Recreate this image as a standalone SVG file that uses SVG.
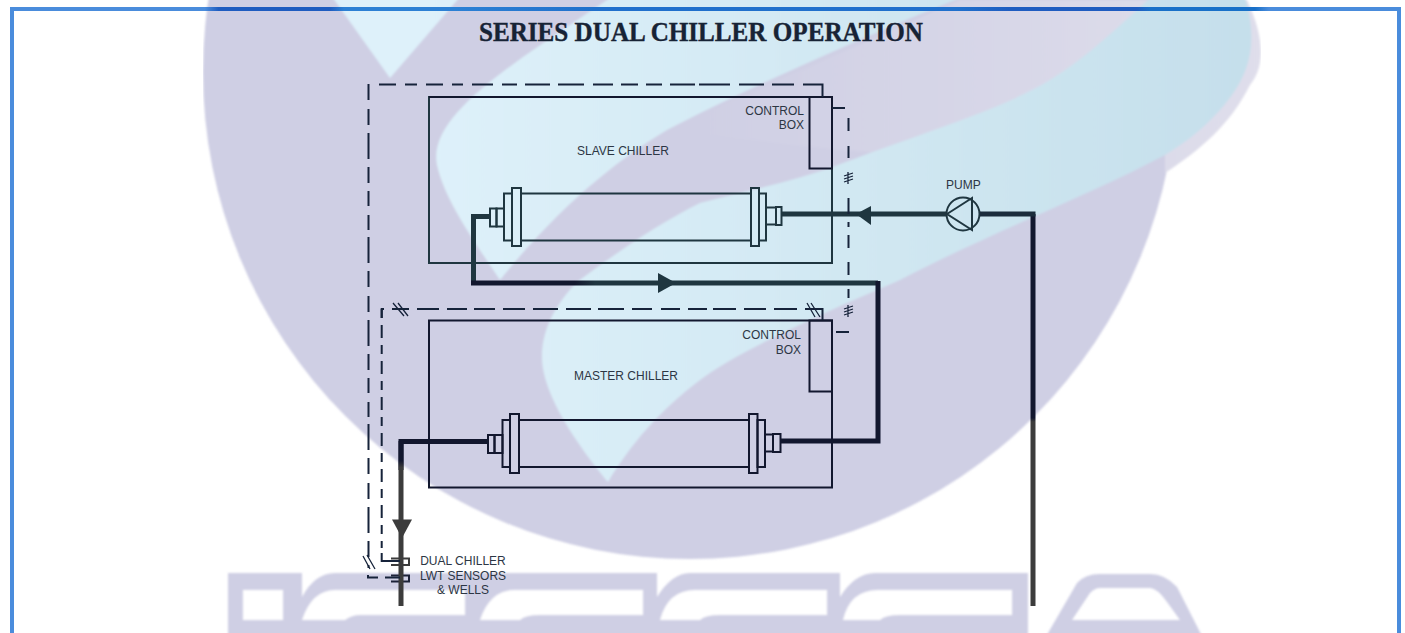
<svg xmlns="http://www.w3.org/2000/svg" width="1405" height="633" viewBox="0 0 1405 633">
<style>
text{font-family:"Liberation Sans",Arial,sans-serif;font-size:12px;fill:#2c3644}
.title{font-family:"Liberation Serif","Times New Roman",serif;font-size:27px;font-weight:700;fill:#172335;stroke:#172335;stroke-width:.4}
.teal{fill:none;stroke:#1f3640;stroke-width:2}
.dark{fill:none;stroke:#12172e;stroke-width:2}
.dash{fill:none;stroke:#16233a;stroke-width:2}
.mark{fill:none;stroke:#16233a;stroke-width:1.300}
.pipe{fill:none;stroke-width:5;stroke-linejoin:miter}
.lav{fill:#cfcfe4}
.win{fill:#fff}
</style>
<defs>
<filter id="soft" x="0" y="0" width="100%" height="100%"><feGaussianBlur stdDeviation="0.900"/></filter>
<linearGradient id="blue" gradientUnits="userSpaceOnUse" x1="430" y1="0" x2="1250" y2="0"><stop offset="0" stop-color="#def1fa"/><stop offset="1" stop-color="#c5dfeb"/></linearGradient>
<linearGradient id="lobe" gradientUnits="userSpaceOnUse" x1="700" y1="0" x2="1260" y2="0"><stop offset="0" stop-color="#cfcfe4"/><stop offset="1" stop-color="#dfdeeb"/></linearGradient>
<linearGradient id="topbar" gradientUnits="userSpaceOnUse" x1="10" y1="0" x2="1401" y2="0">
<stop offset="0" stop-color="#4a8cdc"/><stop offset=".14" stop-color="#4a8cdc"/><stop offset=".15" stop-color="#1f5cc0"/><stop offset=".23" stop-color="#1f5cc0"/><stop offset=".24" stop-color="#2c80d4"/><stop offset=".32" stop-color="#2c80d4"/><stop offset=".42" stop-color="#2070cc"/><stop offset=".68" stop-color="#2070cc"/><stop offset=".72" stop-color="#1f5cc0"/><stop offset=".81" stop-color="#1f5cc0"/><stop offset=".82" stop-color="#1870c8"/><stop offset=".895" stop-color="#1870c8"/><stop offset=".905" stop-color="#4a8cdc"/><stop offset="1" stop-color="#4a8cdc"/></linearGradient>
<linearGradient id="pipeR" gradientUnits="userSpaceOnUse" x1="0" y1="214" x2="0" y2="606"><stop offset="0" stop-color="#12172e"/><stop offset=".52" stop-color="#12172e"/><stop offset=".53" stop-color="#3c3c3c"/><stop offset="1" stop-color="#3c3c3c"/></linearGradient>
<linearGradient id="pipeL" gradientUnits="userSpaceOnUse" x1="0" y1="441" x2="0" y2="606"><stop offset="0" stop-color="#12172e"/><stop offset=".12" stop-color="#12172e"/><stop offset=".16" stop-color="#3c3c3c"/><stop offset="1" stop-color="#3c3c3c"/></linearGradient>
<linearGradient id="pipeM" gradientUnits="userSpaceOnUse" x1="473" y1="0" x2="880" y2="0"><stop offset="0" stop-color="#12172e"/><stop offset=".25" stop-color="#12172e"/><stop offset=".3" stop-color="#1f3640"/><stop offset="1" stop-color="#1f3640"/></linearGradient>
</defs>
<rect width="1405" height="633" fill="#fff"/>
<g id="watermark" filter="url(#soft)">
<circle class="lav" cx="690" cy="72" r="487"/>
<path fill="url(#lobe)" d="M960,0H1247C1268,45 1262,70 1250,85C1230,125 1200,150 1165,173L1165,155L1100,170L843,150L667,130Z"/>
<path fill="url(#blue)" d="M333,-2L390,78L459,-2Z"/>
<path fill="url(#blue)" d="M960,-2C860,38 740,92 667,130C620,158 560,205 500,280C470,235 445,200 437,165C430,130 470,95 523,57C555,35 580,18 610,-2Z"/>
<path fill="url(#blue)" d="M1150,-2H1245C1258,40 1250,70 1232,95C1210,125 1185,143 1165,155C1090,195 990,233 900,280C830,310 740,350 700,380C660,410 630,445 608,482C590,460 542,400 542,357C542,325 560,300 577,282C620,250 660,223 700,203C750,190 800,180 843,163C930,130 1000,110 1050,80C1090,55 1120,25 1150,-2Z"/>
<path class="lav" d="M228,573H302V597Q315,573 335,573H657V597Q672,573 690,573H840V597Q855,573 875,573H1028V640H228Z"/>
<rect class="win" x="243" y="590" width="40" height="30"/>
<path class="win" d="M302,620Q312,590 335,590H465V615H360Q352,615 345,620Z"/>
<path class="win" d="M480,620Q490,590 515,590H643V615H540Q525,615 520,620Z"/>
<path class="win" d="M660,620Q668,590 695,590H827V615H720Q705,615 700,620Z"/>
<path class="win" d="M843,620Q850,590 878,590H1012V615H900Q885,615 880,620Z"/>
<path class="lav" fill-rule="evenodd" d="M1044,640L1077,583Q1085,574 1100,574H1150Q1165,574 1177,587L1204,640ZM1072,620H1180L1167,602Q1157,588 1150,588H1100Q1095,588 1090,593Z"/>
</g>
<rect x="10" y="11" width="4" height="622" fill="#4a8cdc"/>
<rect x="1397" y="11" width="4" height="622" fill="#4a8cdc"/>
<rect x="10" y="7" width="1391" height="4" fill="url(#topbar)"/>
<text class="title" x="479" y="41" textLength="444" lengthAdjust="spacingAndGlyphs">SERIES DUAL CHILLER OPERATION</text>
<g id="slave-chiller">
<rect class="teal" x="429" y="97" width="403" height="166"/>
<rect class="dark" x="809.500" y="97" width="22.500" height="71.500"/>
<path class="dark" d="M429,97H832"/>
<text x="577" y="155">SLAVE CHILLER</text>
<text x="804" y="115" text-anchor="end">CONTROL</text>
<text x="804" y="129" text-anchor="end">BOX</text>
<path class="teal" d="M521,193.500H751M521,240.500H751"/>
<rect class="teal" x="490" y="208.500" width="6.500" height="18"/>
<rect class="teal" x="496.500" y="208.500" width="7.500" height="18"/>
<rect class="teal" x="504" y="193.500" width="8" height="47"/>
<rect class="teal" x="512" y="188" width="9" height="58"/>
<rect class="teal" x="751" y="188" width="8" height="58"/>
<rect class="teal" x="759" y="193.500" width="7" height="47"/>
<rect class="teal" x="766" y="207.500" width="10" height="17"/>
<rect class="teal" x="776" y="207" width="5.500" height="18"/>
</g>
<g id="master-chiller">
<rect class="dark" x="429" y="320.500" width="403" height="167"/>
<rect class="dark" x="809.500" y="320.500" width="22.500" height="71"/>
<text x="574" y="380">MASTER CHILLER</text>
<text x="801" y="339" text-anchor="end">CONTROL</text>
<text x="801" y="354" text-anchor="end">BOX</text>
<path class="dark" d="M519,420H749M519,467H749"/>
<rect class="dark" x="488" y="435" width="6.500" height="18"/>
<rect class="dark" x="494.500" y="435" width="8" height="18"/>
<rect class="dark" x="502.500" y="420" width="7.500" height="47"/>
<rect class="dark" x="510" y="414" width="9" height="59"/>
<rect class="dark" x="749" y="414" width="8.500" height="59"/>
<rect class="dark" x="757.500" y="420" width="7.500" height="47"/>
<rect class="dark" x="765" y="434.500" width="8" height="17"/>
<rect class="dark" x="773" y="434" width="7.500" height="18"/>
</g>
<g id="pump">
<circle class="teal" cx="963" cy="214" r="16.500"/>
<path class="teal" d="M947,214L972,198V230Z"/>
<text x="946" y="189">PUMP</text>
</g>
<g id="lwt-sensors">
<path d="M391,558.500H409V565H391" fill="none" stroke="#3c3c3c" stroke-width="2"/>
<path d="M391,575.500H409V581.500H391" fill="none" stroke="#1c2238" stroke-width="2"/>
<text x="463" y="565" text-anchor="middle">DUAL CHILLER</text>
<text x="463" y="580" text-anchor="middle">LWT SENSORS</text>
<text x="463" y="594" text-anchor="middle">&amp; WELLS</text>
</g>
<g id="connectors">
<path class="pipe" stroke="#1f3640" d="M946,214H781"/>
<path fill="#1f3640" d="M856,214L871,206V225Z"/>
<path class="pipe" stroke="url(#pipeR)" d="M1033,214V606"/>
<path class="pipe" stroke="#1b2c3c" d="M980,214H1035.500"/>
<path class="pipe" stroke="#1f3640" d="M490,216.500H473.500V285"/>
<path class="pipe" stroke="url(#pipeM)" d="M471,283H878"/>
<path fill="#1f3640" d="M676,283L658,273V293Z"/>
<path class="pipe" stroke="#12172e" d="M878,281V441H780"/>
<path class="pipe" stroke="#12172e" d="M488,441.500H401V470"/>
<path class="pipe" stroke="url(#pipeL)" d="M401,441V606"/>
<path fill="#3c3c3c" d="M392,519.500H412L402,538Z"/>
<path class="dash" stroke-dasharray="17 9 12 9 17 9 11 9 21 9 15 8 25 8 26 9 20 8 17 8 16 8 25 4 31 9 25 8 22 9 60" d="M379,84.500H822.500V97"/>
<path class="dash" stroke-dasharray="16 9 16 8 26 8 16 8 15 9 15 7 26 8" d="M368.500,84V568"/>
<path class="dash" d="M368,575V577.500H378M385,577.500H400"/>
<path class="dash" stroke-dasharray="17 8 22 8 20 7 21 8 22 8 25 8 25 7 26 8 20 9 19 8 19 6 23 8 22 8 23 8 30" d="M392,309H822.500V320"/>
<path class="dash" stroke-dasharray="9 7 13 7" d="M381.700,309V548"/>
<path class="dash" d="M384,309H381.700V318M381.700,553V561H400"/>
<path class="dash" d="M832,108H845M848.500,118V131M848.500,146V158M848.500,198V214M848.500,222V227M848.500,235V248M848.500,262V275M848.500,289V298M836,332H849"/>
<path class="mark" d="M393,303L404,316M398,303L408,316M807,303L815,317M811,303L820,317M363,556L370,569M367,555L375,569"/>
<path class="mark" d="M848,172V184M844,176L853,173M844,179L853,176M844,182L853,179M848,305V317M844,309L853,306M844,312L853,309M844,315L853,312"/>
</g>
</svg>
